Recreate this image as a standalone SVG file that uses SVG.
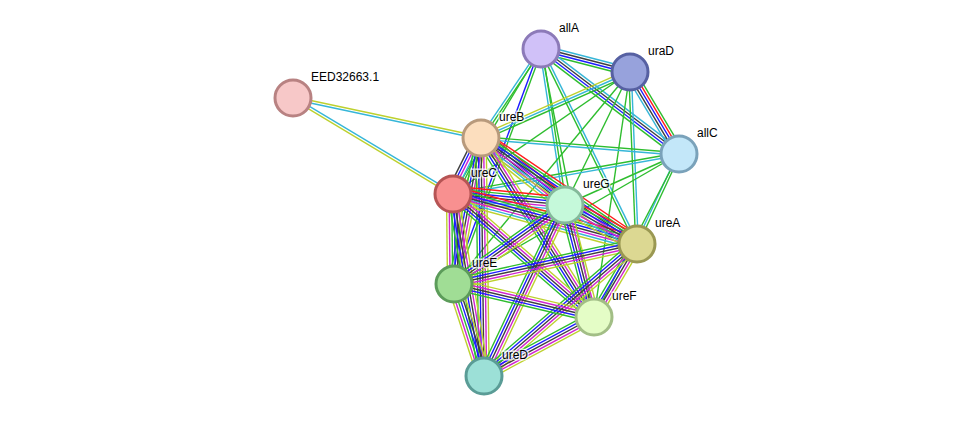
<svg xmlns="http://www.w3.org/2000/svg" xmlns:xlink="http://www.w3.org/1999/xlink" width="976" height="422" viewBox="0 0 976 422">
<style>
.e line{stroke-width:1.4;fill:none;vector-effect:non-scaling-stroke}
.g{stroke:#2ebd2e}.b{stroke:#1c1cff}.k{stroke:#3e3e3e}.m{stroke:#d024d0}.c{stroke:#36b6d8}.y{stroke:#bdd12e}.r{stroke:#ff1c1c}
.n circle{stroke-width:3}
.n text{font-family:"Liberation Sans",Arial,sans-serif;font-size:12px;fill:#000;stroke:#fff;stroke-width:3;stroke-opacity:0.7;paint-order:stroke}
</style>
<defs>
<g id="CY" class="e"><line x2="1" y1="-1.3" y2="-1.3" class="y"/><line x2="1" y1="1.3" y2="1.3" class="c"/></g>
<g id="YC" class="e"><line x2="1" y1="-1.3" y2="-1.3" class="c"/><line x2="1" y1="1.3" y2="1.3" class="y"/></g>
<g id="G1" class="e"><line x2="1" class="g"/></g>
<g id="GC" class="e"><line x2="1" y1="-1.3" y2="-1.3" class="g"/><line x2="1" y1="1.3" y2="1.3" class="c"/></g>
<g id="CG" class="e"><line x2="1" y1="-1.3" y2="-1.3" class="c"/><line x2="1" y1="1.3" y2="1.3" class="g"/></g>
<g id="GB" class="e"><line x2="1" y1="-1.3" y2="-1.3" class="g"/><line x2="1" y1="1.3" y2="1.3" class="b"/></g>
<g id="GCY" class="e"><line x2="1" y1="-2.6" y2="-2.6" class="g"/><line x2="1" class="c"/><line x2="1" y1="2.6" y2="2.6" class="y"/></g>
<g id="A4" class="e"><line x2="1" y1="-3.9" y2="-3.9" class="c"/><line x2="1" y1="-1.3" y2="-1.3" class="k"/><line x2="1" y1="1.3" y2="1.3" class="b"/><line x2="1" y1="3.9" y2="3.9" class="g"/></g>
<g id="U5" class="e"><line x2="1" y1="-5.2" y2="-5.2" class="g"/><line x2="1" y1="-2.6" y2="-2.6" class="r"/><line x2="1" class="b"/><line x2="1" y1="2.6" y2="2.6" class="k"/><line x2="1" y1="5.2" y2="5.2" class="c"/></g>
<g id="S5" class="e"><line x2="1" y1="-5.2" y2="-5.2" class="y"/><line x2="1" y1="-2.6" y2="-2.6" class="m"/><line x2="1" class="k"/><line x2="1" y1="2.6" y2="2.6" class="b"/><line x2="1" y1="5.2" y2="5.2" class="g"/></g>
<g id="F7" class="e"><line x2="1" y1="-7.8" y2="-7.8" class="r"/><line x2="1" y1="-5.2" y2="-5.2" class="g"/><line x2="1" y1="-2.6" y2="-2.6" class="b"/><line x2="1" class="k"/><line x2="1" y1="2.6" y2="2.6" class="m"/><line x2="1" y1="5.2" y2="5.2" class="c"/><line x2="1" y1="7.8" y2="7.8" class="y"/></g>
<g id="B6" class="e"><line x2="1" y1="-6.5" y2="-6.5" class="y"/><line x2="1" y1="-3.9" y2="-3.9" class="g"/><line x2="1" y1="-1.3" y2="-1.3" class="c"/><line x2="1" y1="1.3" y2="1.3" class="m"/><line x2="1" y1="3.9" y2="3.9" class="b"/><line x2="1" y1="6.5" y2="6.5" class="k"/></g>
<g id="E6" class="e"><line x2="1" y1="-6.5" y2="-6.5" class="y"/><line x2="1" y1="-3.9" y2="-3.9" class="k"/><line x2="1" y1="-1.3" y2="-1.3" class="b"/><line x2="1" y1="1.3" y2="1.3" class="g"/><line x2="1" y1="3.9" y2="3.9" class="m"/><line x2="1" y1="6.5" y2="6.5" class="y"/></g>
</defs>
<g id="edges">
<use xlink:href="#CY" transform="translate(293 98) rotate(12.01) scale(192.2 1)"/>
<use xlink:href="#YC" transform="translate(293 98) rotate(30.96) scale(186.6 1)"/>
<use xlink:href="#A4" transform="translate(541 49) rotate(14.49) scale(91.9 1)"/>
<use xlink:href="#A4" transform="translate(541 49) rotate(37.27) scale(173.4 1)"/>
<use xlink:href="#U5" transform="translate(630 72) rotate(59.14) scale(95.5 1)"/>
<use xlink:href="#GC" transform="translate(541 49) rotate(124.0) scale(107.3 1)"/>
<use xlink:href="#G1" transform="translate(541 49) rotate(121.25) scale(169.6 1)"/>
<use xlink:href="#GC" transform="translate(541 49) rotate(81.25) scale(157.8 1)"/>
<use xlink:href="#CG" transform="translate(541 49) rotate(63.79) scale(217.3 1)"/>
<use xlink:href="#GB" transform="translate(541 49) rotate(110.32) scale(250.6 1)"/>
<use xlink:href="#G1" transform="translate(541 49) rotate(78.81) scale(273.2 1)"/>
<use xlink:href="#GCY" transform="translate(630 72) rotate(156.11) scale(163 1)"/>
<use xlink:href="#G1" transform="translate(630 72) rotate(145.42) scale(215 1)"/>
<use xlink:href="#G1" transform="translate(630 72) rotate(116.04) scale(148 1)"/>
<use xlink:href="#CG" transform="translate(630 72) rotate(87.67) scale(172.1 1)"/>
<use xlink:href="#G1" transform="translate(630 72) rotate(129.7) scale(275.5 1)"/>
<use xlink:href="#G1" transform="translate(630 72) rotate(98.36) scale(247.6 1)"/>
<use xlink:href="#CG" transform="translate(679 154) rotate(-175.38) scale(198.6 1)"/>
<use xlink:href="#CG" transform="translate(679 154) rotate(169.96) scale(229.5 1)"/>
<use xlink:href="#G1" transform="translate(679 154) rotate(155.9) scale(124.9 1)"/>
<use xlink:href="#GC" transform="translate(679 154) rotate(115.02) scale(99.3 1)"/>
<use xlink:href="#G1" transform="translate(679 154) rotate(149.98) scale(259.9 1)"/>
<use xlink:href="#G1" transform="translate(679 154) rotate(117.54) scale(183.8 1)"/>
<use xlink:href="#B6" transform="translate(481 138) rotate(116.57) scale(62.6 1)"/>
<use xlink:href="#F7" transform="translate(481 138) rotate(38.58) scale(107.4 1)"/>
<use xlink:href="#F7" transform="translate(481 138) rotate(34.19) scale(188.6 1)"/>
<use xlink:href="#S5" transform="translate(481 138) rotate(100.48) scale(148.5 1)"/>
<use xlink:href="#S5" transform="translate(481 138) rotate(57.74) scale(211.7 1)"/>
<use xlink:href="#S5" transform="translate(481 138) rotate(89.28) scale(238 1)"/>
<use xlink:href="#F7" transform="translate(453 194) rotate(5.61) scale(112.5 1)"/>
<use xlink:href="#F7" transform="translate(453 194) rotate(15.2) scale(190.7 1)"/>
<use xlink:href="#E6" transform="translate(453 194) rotate(89.36) scale(90 1)"/>
<use xlink:href="#S5" transform="translate(453 194) rotate(41.1) scale(187.1 1)"/>
<use xlink:href="#S5" transform="translate(453 194) rotate(80.33) scale(184.6 1)"/>
<use xlink:href="#F7" transform="translate(565 205) rotate(28.44) scale(81.9 1)"/>
<use xlink:href="#S5" transform="translate(565 205) rotate(144.56) scale(136.2 1)"/>
<use xlink:href="#S5" transform="translate(565 205) rotate(75.48) scale(115.7 1)"/>
<use xlink:href="#S5" transform="translate(565 205) rotate(115.35) scale(189.2 1)"/>
<use xlink:href="#S5" transform="translate(637 244) rotate(167.67) scale(187.3 1)"/>
<use xlink:href="#S5" transform="translate(637 244) rotate(120.5) scale(84.7 1)"/>
<use xlink:href="#S5" transform="translate(637 244) rotate(139.21) scale(202.1 1)"/>
<use xlink:href="#S5" transform="translate(454 284) rotate(13.26) scale(143.8 1)"/>
<use xlink:href="#E6" transform="translate(454 284) rotate(71.94) scale(96.8 1)"/>
<use xlink:href="#S5" transform="translate(594 317) rotate(151.79) scale(124.8 1)"/>
</g>
<g id="EED32663.1" class="n"><circle cx="293" cy="98" r="18" fill="#f7c8c8" stroke="#b88282"/><text x="311" y="81">EED32663.1</text></g>
<g id="allA" class="n"><circle cx="541" cy="49" r="18" fill="#d0c1f8" stroke="#8c7ab8"/><text x="559" y="32">allA</text></g>
<g id="uraD" class="n"><circle cx="630" cy="72" r="18" fill="#97a2dc" stroke="#5660a2"/><text x="648" y="55">uraD</text></g>
<g id="ureB" class="n"><circle cx="481" cy="138" r="18" fill="#fcdebe" stroke="#b89a7c"/><text x="499" y="121">ureB</text></g>
<g id="allC" class="n"><circle cx="679" cy="154" r="18" fill="#c3e7f9" stroke="#7aa2ba"/><text x="697" y="137">allC</text></g>
<g id="ureC" class="n"><circle cx="453" cy="194" r="18" fill="#f89090" stroke="#b65454"/><text x="471" y="177">ureC</text></g>
<g id="ureG" class="n"><circle cx="565" cy="205" r="18" fill="#c5f9da" stroke="#84ba9a"/><text x="583" y="188">ureG</text></g>
<g id="ureA" class="n"><circle cx="637" cy="244" r="18" fill="#dcd892" stroke="#9a9852"/><text x="655" y="227">ureA</text></g>
<g id="ureE" class="n"><circle cx="454" cy="284" r="18" fill="#a0dd95" stroke="#5c9c5a"/><text x="472" y="267">ureE</text></g>
<g id="ureF" class="n"><circle cx="594" cy="317" r="18" fill="#e4fdc6" stroke="#a2be86"/><text x="612" y="300">ureF</text></g>
<g id="ureD" class="n"><circle cx="484" cy="376" r="18" fill="#9ce0d7" stroke="#5a9c96"/><text x="502" y="359">ureD</text></g>
</svg>
